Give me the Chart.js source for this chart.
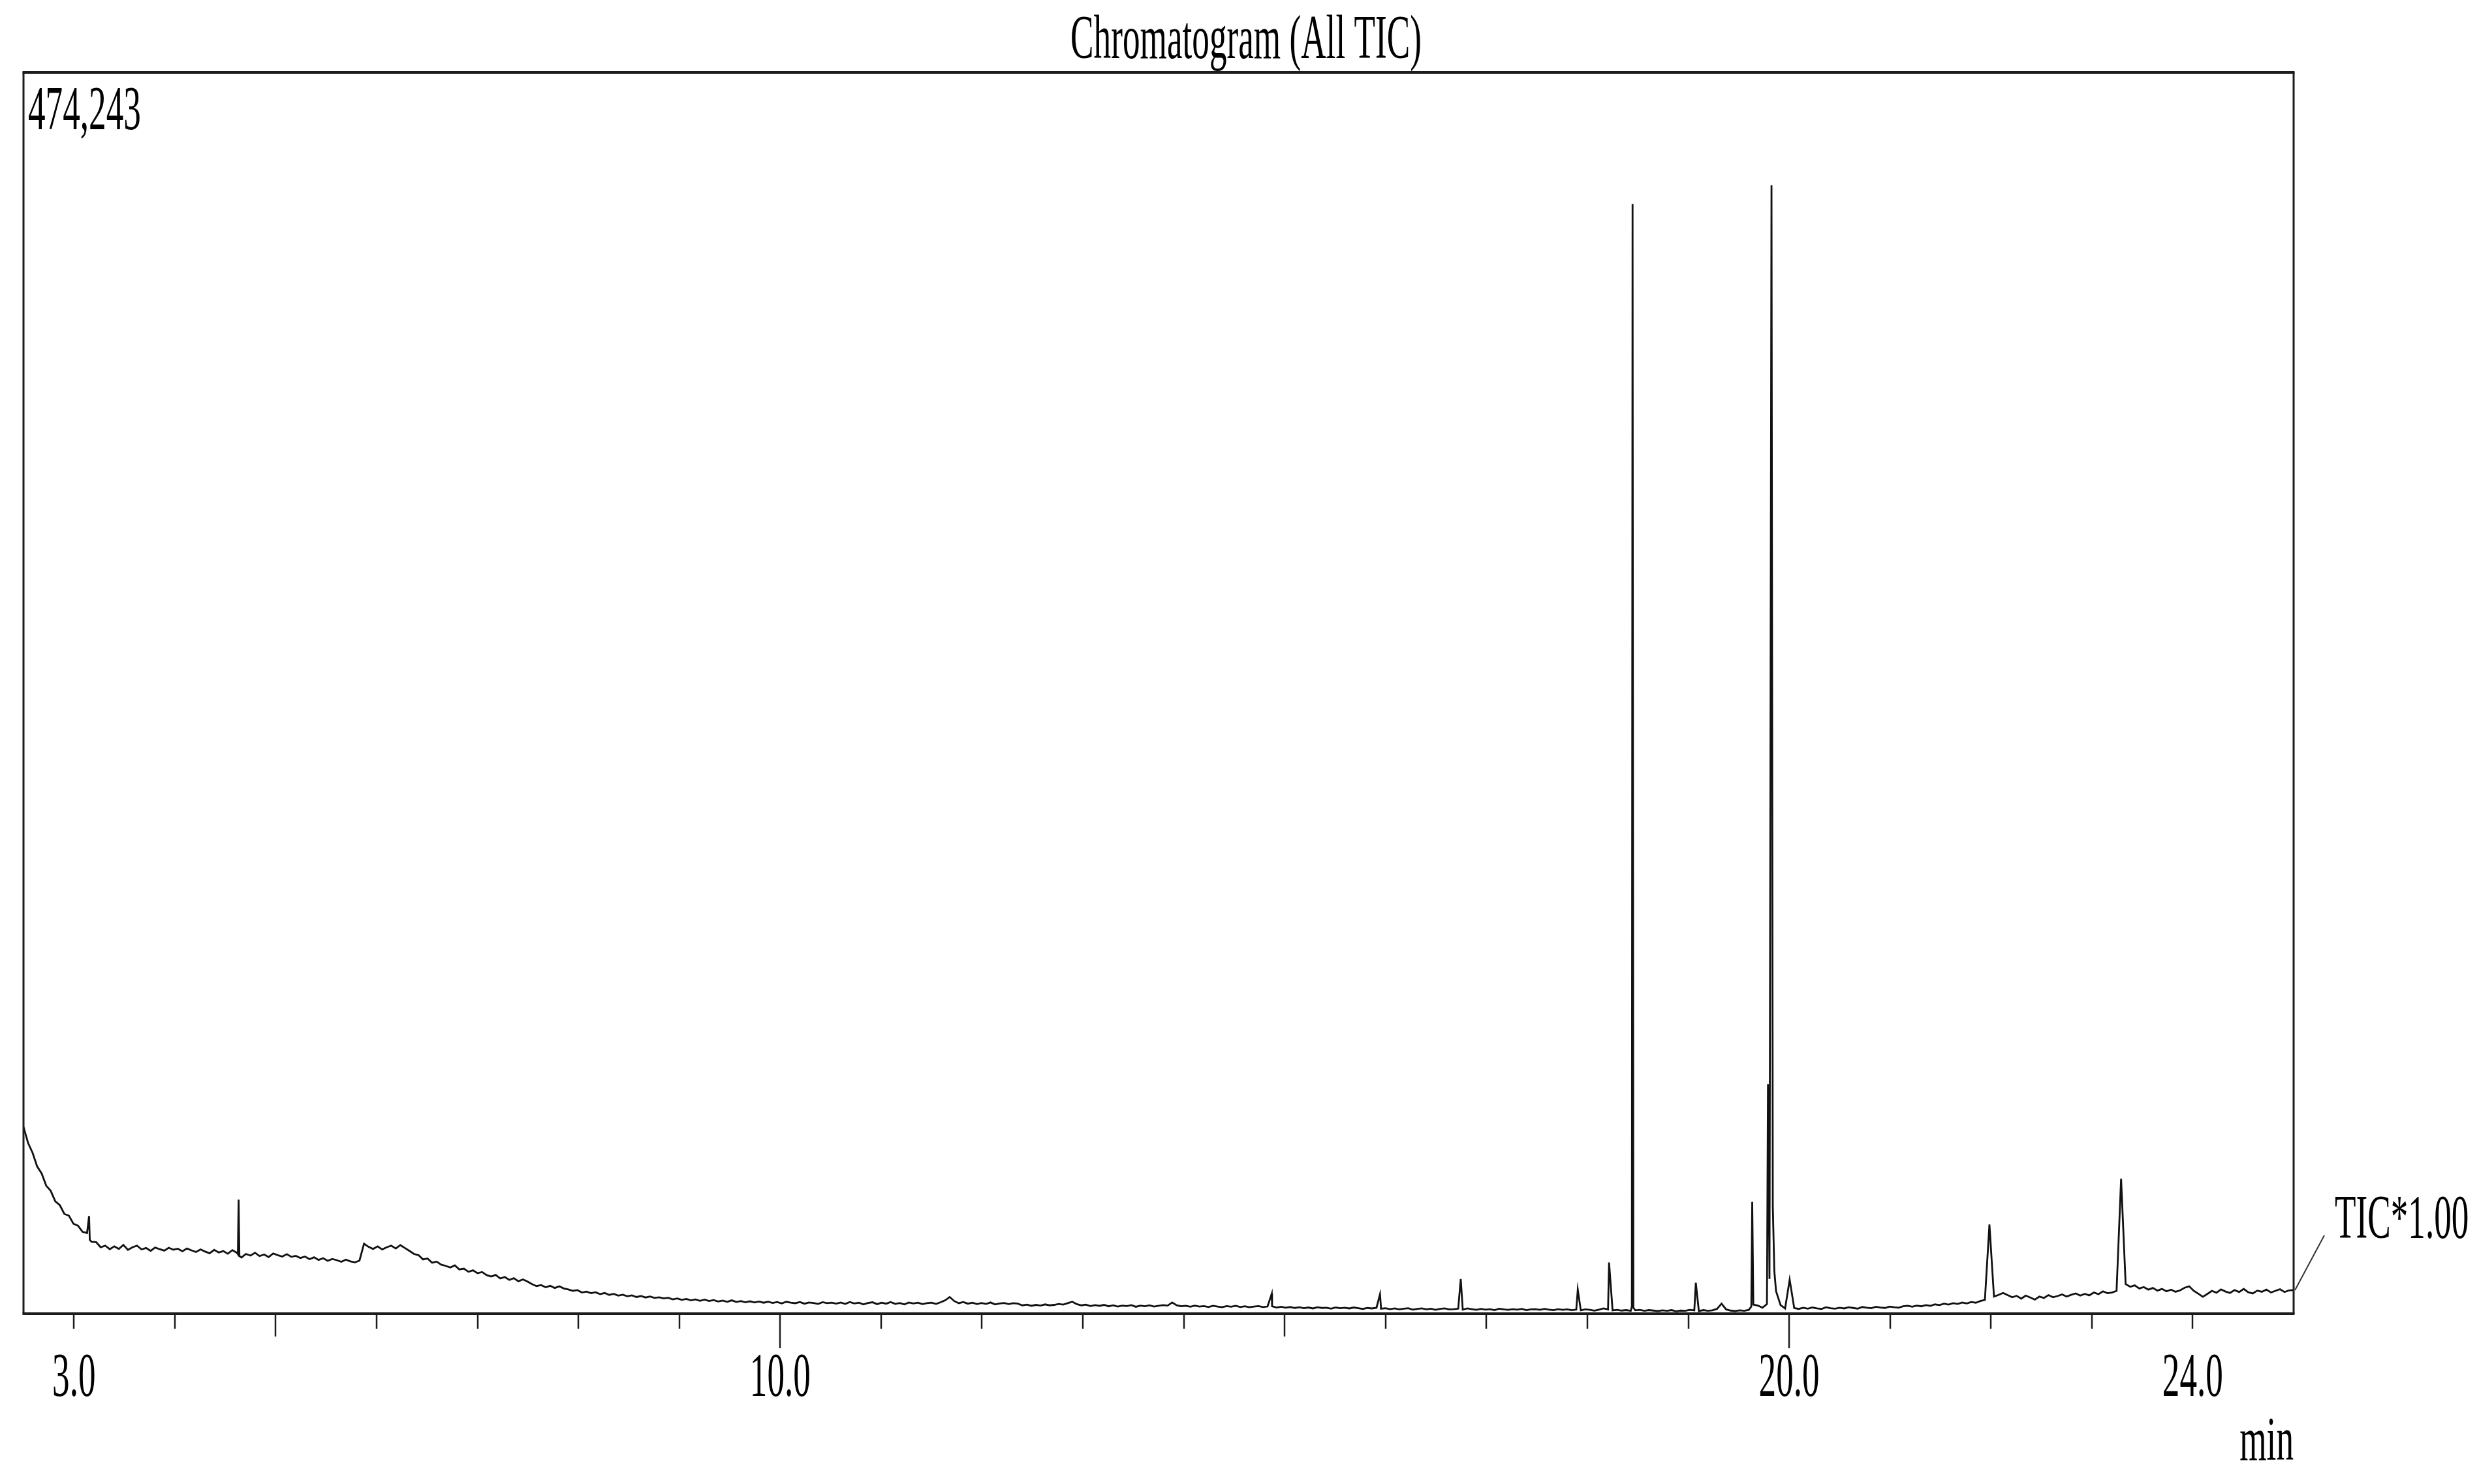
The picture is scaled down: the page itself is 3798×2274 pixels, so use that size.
<!DOCTYPE html>
<html lang="en">
<head>
<meta charset="utf-8">
<title>Chromatogram (All TIC)</title>
<script src="https://cdn.jsdelivr.net/npm/chart.js@4.4.1/dist/chart.umd.min.js"></script>
<style>
  html, body { margin: 0; padding: 0; background: #fff; }
  canvas { display: block; }
</style>
</head>
<body>
<canvas id="tic" width="3798" height="2274"></canvas>
<script>
// retention time grid (min) and TIC intensity, in thousands of counts
const scanStart = 2.5;
const scanInterval = 0.045;
const ticIntensity = [
  78.5, 71.8, 67.6, 61.9, 58.9, 53.8, 51.6, 47.2, 45.6, 41.9, 41.2, 37.8, 37.0, 34.4, 33.9, 30.2, 30.1, 27.9, 28.6, 27.1,
  28.3, 27.2, 28.9, 26.8, 27.9, 28.6, 27.0, 27.6, 26.4, 27.8, 27.1, 26.5, 27.7, 26.9, 27.3, 26.2, 27.4, 26.6, 25.9, 27.0,
  26.1, 25.4, 26.8, 25.7, 26.3, 25.2, 26.7, 25.6, 23.6, 25.1, 24.4, 25.6, 24.2, 24.9, 23.8, 25.3, 24.6, 24.0, 25.0, 23.9,
  24.3, 23.4, 24.0, 22.9, 23.7, 22.6, 23.3, 22.2, 23.0, 22.5, 21.8, 22.7, 22.0, 21.6, 22.3, 29.4, 28.1, 27.2, 28.3, 27.0,
  27.9, 28.6, 27.4, 28.8, 27.6, 26.4, 25.1, 24.6, 22.8, 23.2, 21.4, 21.9, 20.6, 20.1, 19.4, 20.3, 18.6, 18.9, 17.6, 18.2,
  17.0, 17.5, 16.2, 15.6, 16.3, 14.8, 15.4, 14.2, 14.9, 13.6, 14.4, 13.5, 12.4, 11.6, 12.0, 11.1, 11.7, 10.8, 11.5, 10.6,
  10.2, 9.6, 9.9, 8.9, 9.3, 8.6, 9.0, 8.2, 8.7, 7.9, 8.3, 7.6, 8.0, 7.3, 7.7, 7.0, 7.4, 6.8, 7.2, 6.6,
  6.9, 6.4, 6.7, 6.0, 6.4, 5.8, 6.2, 5.6, 6.0, 5.4, 5.9, 5.3, 5.7, 5.1, 5.5, 5.0, 5.6, 4.9, 5.3, 4.8,
  5.2, 4.7, 5.1, 4.6, 5.0, 4.5, 4.9, 4.3, 5.0, 4.6, 4.4, 4.9, 4.2, 4.7, 4.5, 4.1, 4.8, 4.4, 4.6, 4.2,
  4.7, 4.1, 4.9, 4.3, 4.6, 3.9, 4.5, 4.8, 4.0, 4.6, 4.2, 4.9, 4.1, 4.5, 3.9, 4.7, 4.3, 4.6, 4.0, 4.4,
  4.6, 4.1, 4.8, 5.6, 7.0, 5.3, 4.4, 4.9, 4.2, 4.6, 4.0, 4.5, 4.1, 4.7, 3.9, 4.3, 4.5, 4.0, 4.4, 4.2,
  3.5, 3.8, 3.3, 3.7, 3.4, 3.9, 3.5, 3.7, 4.1, 3.8, 4.4, 5.0, 4.0, 3.5, 3.8, 3.2, 3.6, 3.3, 3.7, 3.1,
  3.5, 3.0, 3.4, 3.2, 3.6, 2.9, 3.4, 3.1, 3.5, 3.0, 3.3, 3.6, 3.4, 4.7, 3.5, 3.1, 3.3, 2.9, 3.4, 3.0,
  3.2, 2.8, 3.3, 3.0, 2.7, 3.2, 2.9, 3.3, 2.8, 3.1, 2.7, 3.0, 3.2, 2.8, 3.0, 3.1, 2.6, 2.9, 2.5, 2.8,
  2.4, 2.7, 2.3, 2.6, 2.2, 2.7, 2.4, 2.5, 2.1, 2.6, 2.3, 2.5, 2.2, 2.6, 2.3, 2.0, 2.4, 2.2, 2.5, 2.1,
  2.3, 1.9, 2.2, 1.8, 2.1, 2.3, 1.7, 2.0, 2.2, 1.8, 2.1, 1.6, 2.0, 2.2, 1.8, 1.9, 2.1, 1.7, 2.2, 1.9,
  1.6, 2.0, 1.7, 1.9, 1.5, 2.1, 1.8, 1.6, 1.9, 1.7, 2.0, 1.5, 1.8, 1.9, 1.6, 2.0, 1.7, 1.5, 1.9, 1.6,
  1.8, 1.5, 1.7, 1.4, 1.8, 1.6, 1.3, 1.7, 2.2, 1.8, 1.4, 1.6, 1.3, 1.5, 1.2, 1.4, 1.6, 1.2, 1.5, 1.3,
  1.1, 1.4, 1.2, 1.5, 1.0, 1.3, 1.2, 1.6, 1.4, 1.1, 1.5, 1.2, 1.4, 2.0, 4.2, 1.8, 1.3, 1.1, 1.4, 1.2,
  1.6, 3.8, 3.4, 2.5, 4.0, 474.243, 9.5, 3.6, 2.2, 14.3, 2.4, 2.0, 2.5, 2.1, 2.6, 2.2, 2.0, 2.7, 2.3, 2.1,
  2.5, 2.2, 2.7, 2.4, 2.1, 2.8, 2.5, 2.3, 2.9, 2.6, 2.4, 3.0, 2.7, 2.5, 3.1, 3.3, 2.9, 3.4, 3.1, 3.6,
  3.3, 3.9, 3.6, 4.2, 3.8, 4.4, 4.1, 4.7, 4.3, 4.9, 4.6, 5.3, 5.8, 37.5, 7.2, 7.9, 8.7, 7.8, 6.9, 7.5,
  6.3, 7.6, 6.8, 5.9, 7.2, 6.6, 7.8, 6.9, 7.4, 8.1, 7.2, 7.9, 8.5, 7.6, 8.3, 7.7, 8.9, 8.2, 9.4, 8.6,
  8.9, 9.6, 56.7, 12.4, 11.3, 11.9, 10.6, 11.2, 10.1, 10.8, 9.7, 10.4, 9.4, 10.1, 9.2, 9.8, 10.9, 11.5, 9.6, 8.4,
  7.1, 8.3, 9.6, 8.8, 10.2, 9.3, 8.7, 9.9, 9.1, 10.4, 9.0, 8.5, 9.7, 9.2, 10.1, 8.9, 9.6, 10.3, 9.1, 9.8,
  9.9
];

// narrow peaks that fall between grid scans
const peakTimes = [3.15, 3.157, 4.625, 4.632, 4.64, 14.872, 15.945, 16.745, 17.905, 18.215,
  18.441, 18.448, 18.456, 19.075, 19.625, 19.634, 19.79, 19.805, 19.838, 19.853];
const peakIntensity = [41.0, 31.0, 25.0, 47.9, 24.2, 8.4, 8.2, 14.6, 10.1, 21.5,
  3.0, 466.3, 2.5, 13.0, 3.0, 47.0, 96.5, 14.6, 45.0, 18.0];

const timeLabels = [3, 10, 20, 24];
const timeMin = 2.5;
const timeMax = 25.0;
const maxIntensityLabel = "474,243";
const intensityTop = 521.667; // 474,243 x 1.1, in thousands

const points = ticIntensity
  .map((v, i) => ({ x: +(scanStart + i * scanInterval).toFixed(3), y: v }))
  .concat(peakTimes.map((t, i) => ({ x: t, y: peakIntensity[i] })))
  .sort((a, b) => a.x - b.x);

const FONT = '95px "Liberation Serif", "Times New Roman", serif';
const SQUEEZE = 0.56;

// text in the narrow serif face of the instrument printout
function condensedText(ctx, str, x, y, align) {
  ctx.save();
  ctx.font = FONT;
  ctx.fillStyle = "#000";
  ctx.textAlign = align;
  ctx.textBaseline = "alphabetic";
  ctx.scale(SQUEEZE, 1);
  ctx.fillText(str, x / SQUEEZE, y);
  ctx.restore();
}

function seg(ctx, x1, y1, x2, y2) {
  ctx.beginPath();
  ctx.moveTo(x1, y1);
  ctx.lineTo(x2, y2);
  ctx.stroke();
}

const chromatogramFrame = {
  id: "chromatogramFrame",
  afterDraw(chart) {
    const ctx = chart.ctx;
    const a = chart.chartArea;
    const xs = chart.scales.x;
    const ys = chart.scales.y;
    ctx.save();
    ctx.strokeStyle = "#1c1c1c";

    // frame
    ctx.lineWidth = 4;
    seg(ctx, a.left - 1.5, a.top, a.right + 1.5, a.top);
    seg(ctx, a.left - 1.5, a.bottom, a.right + 1.5, a.bottom);
    ctx.lineWidth = 3;
    seg(ctx, a.left, a.top, a.left, a.bottom);
    seg(ctx, a.right, a.top, a.right, a.bottom);

    // time ticks: every minute, longer at 5 and 10
    ctx.lineWidth = 2.5;
    for (let t = Math.ceil(timeMin); t < timeMax; t++) {
      const px = Math.round(xs.getPixelForValue(t));
      const len = t % 10 === 0 ? 53 : (t % 5 === 0 ? 35 : 23);
      seg(ctx, px, a.bottom, px, a.bottom + len);
    }
    timeLabels.forEach((t) => {
      condensedText(ctx, t.toFixed(1), xs.getPixelForValue(t), a.bottom + 126, "center");
    });
    condensedText(ctx, "min", a.right, a.bottom + 224, "right");

    // title and full-scale value
    condensedText(ctx, "Chromatogram (All TIC)", 1909, 89, "center");
    condensedText(ctx, maxIntensityLabel, a.left + 7, a.top + 87, "left");

    // trace name with leader line from the end of the trace
    const last = points[points.length - 1];
    ctx.lineWidth = 2;
    ctx.strokeStyle = "#333";
    seg(ctx, a.right + 2, ys.getPixelForValue(last.y), a.right + 47, a.top + 1782);
    condensedText(ctx, "TIC*1.00", a.right + 63, a.top + 1786, "left");
    ctx.restore();
  }
};

function drawChart() {
  new Chart(document.getElementById("tic"), {
    type: "line",
    data: {
      datasets: [{
        label: "TIC*1.00",
        data: points,
        borderColor: "#111",
        borderWidth: 2.8,
        pointRadius: 0,
        tension: 0,
        fill: false
      }]
    },
    options: {
      responsive: false,
      animation: false,
      devicePixelRatio: 1,
      layout: { padding: { left: 36, top: 111, right: 284, bottom: 261 } },
      plugins: {
        legend: { display: false },
        tooltip: { enabled: false }
      },
      scales: {
        x: { type: "linear", min: timeMin, max: timeMax, display: false },
        y: { min: 0, max: intensityTop, display: false }
      }
    },
    plugins: [chromatogramFrame]
  });
}

if (document.fonts && document.fonts.load) {
  document.fonts.load(FONT).then(drawChart, drawChart);
} else {
  drawChart();
}
</script>
</body>
</html>
